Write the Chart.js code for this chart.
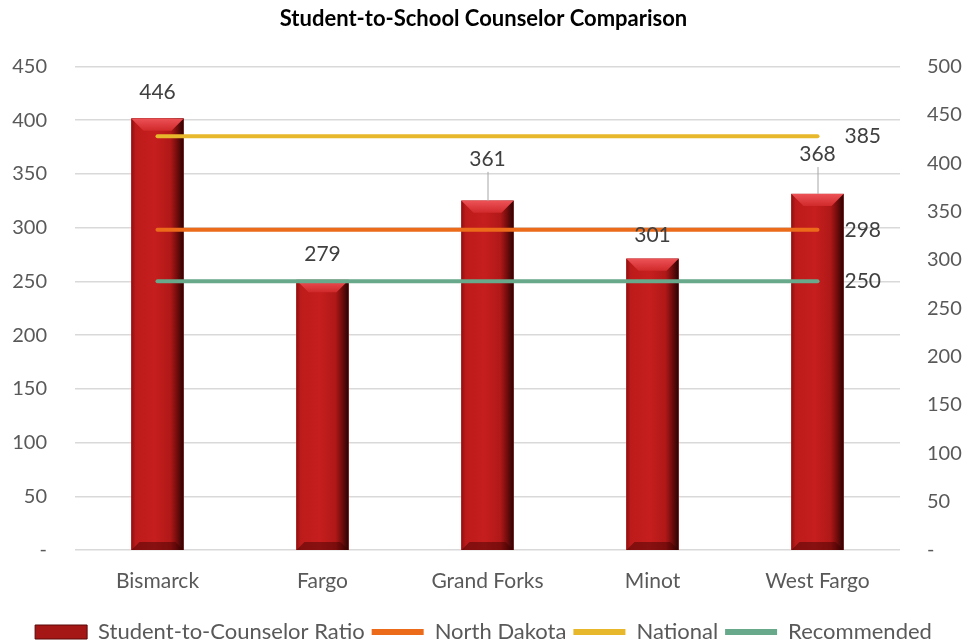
<!DOCTYPE html>
<html>
<head>
<meta charset="utf-8">
<script src="https://cdn.jsdelivr.net/npm/chart.js@4.4.1/dist/chart.umd.min.js"></script>
<style>
  html, body { margin: 0; background: #fff; }
  #wrap { width: 967px; height: 644px; }
</style>
</head>
<body>
<div id="wrap"><canvas id="c" width="967" height="644"></canvas></div>
<script>
const FONT = "Lato, 'Open Sans', sans-serif";
Chart.defaults.font.family = FONT;
Chart.defaults.color = '#595959';

const districts = ['Bismarck', 'Fargo', 'Grand Forks', 'Minot', 'West Fargo'];
const ratio = [446, 279, 361, 301, 368];
const northDakota = [298, 298, 298, 298, 298];
const national = [385, 385, 385, 385, 385];
const recommended = [250, 250, 250, 250, 250];

// how far the bar labels sit above their bar tops (px); the two big ones get a leader line
const labelLift = [26, 26, 42, 24, 40];

const zeroDash = (v) => (v === 0 ? '-' : v);

// bevelled "3D" look for the red bars, drawn right after the bar dataset
const bevelBars = {
  id: 'bevelBars',
  afterDatasetDraw(chart, args) {
    if (args.index !== 0) { return; }
    const ctx = chart.ctx;
    args.meta.data.forEach((bar) => {
      const w = bar.width;
      const l = bar.x - w / 2;
      const r = bar.x + w / 2;
      const t = bar.y;
      const b = bar.base;
      const bev = 12;
      ctx.save();
      const g = ctx.createLinearGradient(l, 0, r, 0);
      g.addColorStop(0, '#8f1010');
      g.addColorStop(0.08, '#bd1b1b');
      g.addColorStop(0.45, '#c61e1e');
      g.addColorStop(0.75, '#b01818');
      g.addColorStop(0.88, '#700c0c');
      g.addColorStop(1, '#2a0404');
      ctx.fillStyle = g;
      ctx.fillRect(l, t, w, b - t);
      // top bevel
      const tg = ctx.createLinearGradient(0, t, 0, t + bev);
      tg.addColorStop(0, '#ec5256');
      tg.addColorStop(1, '#d0292b');
      ctx.fillStyle = tg;
      ctx.beginPath();
      ctx.moveTo(l, t);
      ctx.lineTo(r, t);
      ctx.lineTo(r - bev, t + bev);
      ctx.lineTo(l + bev, t + bev);
      ctx.closePath();
      ctx.fill();
      // bottom bevel
      ctx.fillStyle = 'rgba(60,0,0,0.45)';
      ctx.beginPath();
      ctx.moveTo(l, b);
      ctx.lineTo(r, b);
      ctx.lineTo(r - 8, b - 8);
      ctx.lineTo(l + 8, b - 8);
      ctx.closePath();
      ctx.fill();
      ctx.restore();
    });
  },
};

const valueLabels = {
  id: 'valueLabels',
  afterDatasetsDraw(chart) {
    const ctx = chart.ctx;
    ctx.save();
    ctx.font = `21px ${FONT}`;
    ctx.fillStyle = '#404040';
    ctx.textBaseline = 'middle';
    // bar labels
    ctx.textAlign = 'center';
    const bars = chart.getDatasetMeta(0).data;
    bars.forEach((bar, i) => {
      const lift = labelLift[i];
      ctx.fillText(String(ratio[i]), bar.x, bar.y - lift);
      if (lift > 30) {
        ctx.strokeStyle = '#a6a6a6';
        ctx.lineWidth = 1;
        ctx.beginPath();
        ctx.moveTo(bar.x + 0.5, bar.y - lift + 13);
        ctx.lineTo(bar.x + 0.5, bar.y);
        ctx.stroke();
      }
    });
    // line end labels
    ctx.textAlign = 'left';
    [1, 2, 3].forEach((di) => {
      const pts = chart.getDatasetMeta(di).data;
      const last = pts[pts.length - 1];
      const vals = chart.data.datasets[di].data;
      ctx.fillText(String(vals[vals.length - 1]), last.x + 27, last.y);
    });
    ctx.restore();
  },
};

const lineSet = (label, data, color) => ({
  type: 'line',
  label,
  data,
  yAxisID: 'y',
  borderColor: color,
  backgroundColor: color,
  borderWidth: 4,
  borderCapStyle: 'round',
  pointRadius: 0,
  pointStyle: 'line',
  order: 1,
});

new Chart(document.getElementById('c'), {
  type: 'bar',
  data: {
    labels: districts,
    datasets: [
      {
        label: 'Student-to-Counselor Ratio',
        data: ratio,
        yAxisID: 'y2',
        backgroundColor: '#b81a1a',
        barThickness: 52,
        pointStyle: 'rect',
        order: 2,
      },
      lineSet('North Dakota', northDakota, '#ec6b1a'),
      lineSet('National', national, '#e8b82c'),
      lineSet('Recommended', recommended, '#67a98a'),
    ],
  },
  options: {
    responsive: false,
    animation: false,
    layout: { padding: { left: 0, right: 0, top: 0, bottom: -9 } },
    plugins: {
      title: {
        display: true,
        text: 'Student-to-School Counselor Comparison',
        color: '#000',
        font: { size: 22, weight: 'bold' },
        padding: { top: 6, bottom: 34 },
      },
      legend: {
        position: 'bottom',
        labels: {
          usePointStyle: true,
          pointStyleWidth: 52,
          boxHeight: 14,
          padding: 7,
          color: '#595959',
          font: { size: 22, lineHeight: 0.9 },
          generateLabels: (chart) => chart.data.datasets.map((ds, i) => ({
            text: ds.label,
            datasetIndex: i,
            fillStyle: i === 0 ? '#a51717' : ds.borderColor,
            strokeStyle: i === 0 ? '#5a0808' : ds.borderColor,
            lineWidth: i === 0 ? 1 : 6,
            pointStyle: i === 0 ? 'rect' : 'line',
            fontColor: '#595959',
          })),
        },
      },
      tooltip: { enabled: false },
    },
    scales: {
      x: {
        grid: { display: false, drawTicks: false },
        border: { display: false },
        ticks: { font: { size: 21 }, padding: 19, color: '#595959' },
        afterFit: (s) => { s.height = 64; },
      },
      y: {
        position: 'left',
        min: 0,
        max: 450,
        ticks: { stepSize: 50, font: { size: 20 }, padding: 28, callback: zeroDash },
        grid: { color: '#d9d9d9', lineWidth: 1.5, tickLength: 0 },
        border: { display: false },
        afterFit: (s) => { s.width = 75; },
      },
      y2: {
        position: 'right',
        min: 0,
        max: 500,
        ticks: { stepSize: 50, font: { size: 20 }, padding: 19, callback: zeroDash },
        grid: { display: false },
        border: { display: false },
        afterFit: (s) => { s.width = 67; },
      },
    },
  },
  plugins: [bevelBars, valueLabels],
});
</script>
</body>
</html>
